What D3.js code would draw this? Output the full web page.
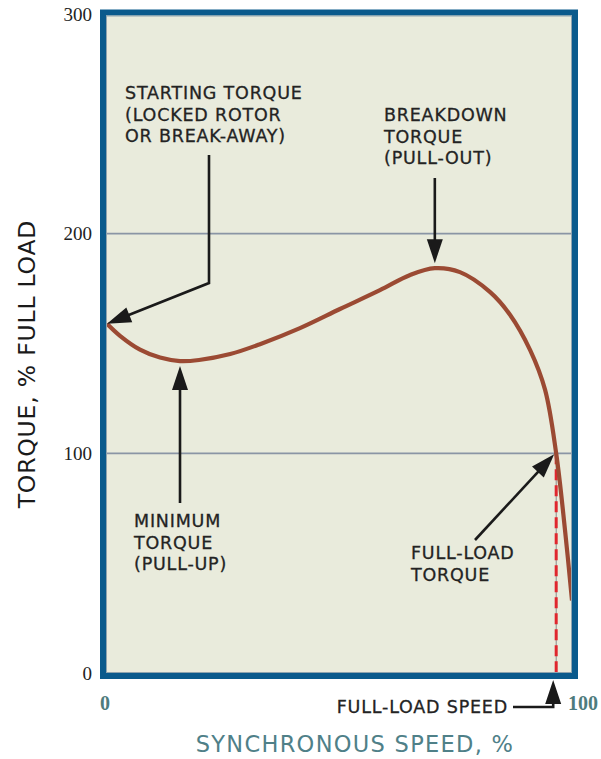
<!DOCTYPE html>
<html><head><meta charset="utf-8">
<script src="https://cdn.jsdelivr.net/npm/d3@7"></script>
<style>html,body{margin:0;padding:0;background:#fff;}svg{display:block;}</style>
</head><body>
<svg id="c" width="601" height="759"></svg>
<script>
const speed = [0, 2.8, 7.1, 11.4, 15.7, 19.8, 26.5, 32.9, 41.5, 50.1, 58.7, 65.2, 70.5, 75.9, 82.4, 86.7, 91.0, 94.2, 96.6, 98.5, 100];
const torque = [159, 153.5, 147.2, 143.6, 142.0, 142.5, 145.2, 149.7, 157.0, 165.7, 174.3, 181.2, 184.3, 182.5, 173.4, 163, 147, 129, 100, 65, 33];
const yTicks = [0, 100, 200, 300];
const xTicks = [0, 100];
const gridVals = [100, 200];
const fullLoadSpeed = 96.6;
const fullLoadTorque = 100;
const startTorque = 159;
const minPoint = [15.7, 142];
const peakPoint = [70.5, 184.3];

const svg = d3.select("#c");
const x = d3.scaleLinear().domain([0, 100]).range([107, 572]);
const y = d3.scaleLinear().domain([0, 300]).range([673, 14]);
const SANS = "DejaVu Sans, Verdana, sans-serif";
const SERIF = "Liberation Serif, Times New Roman, serif";

// background
svg.append("rect").attr("x", 103).attr("y", 13).attr("width", 472).attr("height", 663)
  .attr("fill", "#e9ebdc");

// gridlines
svg.selectAll(".grid").data(gridVals).enter().append("line")
  .attr("x1", 104).attr("x2", 575)
  .attr("y1", d => y(d)).attr("y2", d => y(d))
  .attr("stroke", "#8a95a5").attr("stroke-width", 1.6);

// dashed full-load speed line
svg.append("line").attr("x1", x(fullLoadSpeed)).attr("x2", x(fullLoadSpeed))
  .attr("y1", y(fullLoadTorque)).attr("y2", 677)
  .attr("stroke", "#8a8a8a").attr("stroke-width", 1);
svg.append("line").attr("x1", x(fullLoadSpeed)).attr("x2", x(fullLoadSpeed))
  .attr("y1", y(fullLoadTorque)).attr("y2", 677)
  .attr("stroke", "#e0262e").attr("stroke-width", 3).attr("stroke-dasharray", "11,5");

// curve
const pts = speed.map((s, i) => [s, torque[i]]);
const line = d3.line().x(d => x(d[0])).y(d => y(d[1])).curve(d3.curveCatmullRom.alpha(0.5));
svg.append("clipPath").attr("id", "clip").append("rect").attr("x", 104).attr("y", 13).attr("width", 471).attr("height", 663);
svg.append("path").datum(pts).attr("d", line).attr("fill", "none")
  .attr("stroke", "#9b4a33").attr("stroke-width", 4.2).attr("clip-path", "url(#clip)");

// border
svg.append("rect").attr("x", 103).attr("y", 12.5).attr("width", 472).attr("height", 663.5)
  .attr("fill", "none").attr("stroke", "#0a5a8c").attr("stroke-width", 6);
svg.append("rect").attr("x", 106.5).attr("y", 16).attr("width", 465).attr("height", 656.5)
  .attr("fill", "none").attr("stroke", "#8fa3ae").attr("stroke-width", 1);

// arrows
function arrow(points) {
  const g = svg.append("g");
  const n = points.length;
  const tip = points[n - 1], prev = points[n - 2];
  const dx = tip[0] - prev[0], dy = tip[1] - prev[1];
  const len = Math.hypot(dx, dy), ux = dx / len, uy = dy / len;
  const hl = 24, hw = 8;
  const bx = tip[0] - ux * hl, by = tip[1] - uy * hl;
  const shaft = points.slice(0, n - 1).concat([[tip[0] - ux * (hl - 4), tip[1] - uy * (hl - 4)]]);
  g.append("path").attr("d", d3.line()(shaft)).attr("fill", "none")
    .attr("stroke", "#1a1a1a").attr("stroke-width", 2.6).attr("stroke-linejoin", "miter");
  g.append("path").attr("d", d3.line()([tip, [bx - uy * hw, by + ux * hw], [bx + uy * hw, by - ux * hw]]) + "Z")
    .attr("fill", "#1a1a1a");
}
arrow([[209, 155], [209, 283], [x(0), y(startTorque)]]);
arrow([[x(peakPoint[0]), 178], [x(peakPoint[0]), y(peakPoint[1]) - 5]]);
arrow([[x(minPoint[0]), 503], [x(minPoint[0]), y(minPoint[1]) + 5]]);
arrow([[475, 540], [x(fullLoadSpeed) - 2, y(fullLoadTorque) + 1]]);
arrow([[513, 707], [x(fullLoadSpeed) - 3, 707], [x(fullLoadSpeed) - 3, 680]]);

// annotation text
function label(lines, lx, ly) {
  const t = svg.append("text").attr("x", lx).attr("y", ly)
    .attr("font-family", SANS).attr("font-size", 17.5).attr("letter-spacing", 0.8)
    .attr("fill", "#232323").attr("stroke", "#232323").attr("stroke-width", 0.3);
  lines.forEach((l, i) => t.append("tspan").attr("x", lx).attr("dy", i ? 21.5 : 0).text(l));
}
label(["STARTING TORQUE", "(LOCKED ROTOR", "OR BREAK-AWAY)"], 125, 99);
label(["BREAKDOWN", "TORQUE", "(PULL-OUT)"], 384, 121);
label(["MINIMUM", "TORQUE", "(PULL-UP)"], 134, 527);
label(["FULL-LOAD", "TORQUE"], 411, 559);
svg.append("text").attr("x", 508).attr("y", 713).attr("text-anchor", "end")
  .attr("font-family", SANS).attr("font-size", 17.5).attr("letter-spacing", 0.8)
  .attr("fill", "#232323").attr("stroke", "#232323").attr("stroke-width", 0.3).text("FULL-LOAD SPEED");

// y tick labels
svg.selectAll(".yt").data(yTicks).enter().append("text")
  .attr("x", 92).attr("y", d => y(d)).attr("dy", "0.35em").attr("text-anchor", "end")
  .attr("font-family", SERIF).attr("font-size", 19)
  .attr("fill", "#222").text(d => d);

// x tick labels
svg.selectAll(".xt").data(xTicks).enter().append("text")
  .attr("x", d => d === 0 ? 105 : 583).attr("y", 710).attr("text-anchor", "middle")
  .attr("font-family", SERIF).attr("font-size", 20)
  .attr("font-weight", "bold").attr("fill", "#4e7b7d").text(d => d);

// axis titles
svg.append("text").attr("x", 355).attr("y", 752).attr("text-anchor", "middle")
  .attr("font-family", SANS).attr("font-size", 22.5).attr("letter-spacing", 1.3)
  .attr("fill", "#4f8088").text("SYNCHRONOUS SPEED, %");
svg.append("text").attr("transform", "translate(35,364) rotate(-90)").attr("text-anchor", "middle")
  .attr("font-family", SANS).attr("font-size", 23.5).attr("letter-spacing", 0.8)
  .attr("fill", "#1a1a1a").text("TORQUE, % FULL LOAD");
</script>
</body></html>
